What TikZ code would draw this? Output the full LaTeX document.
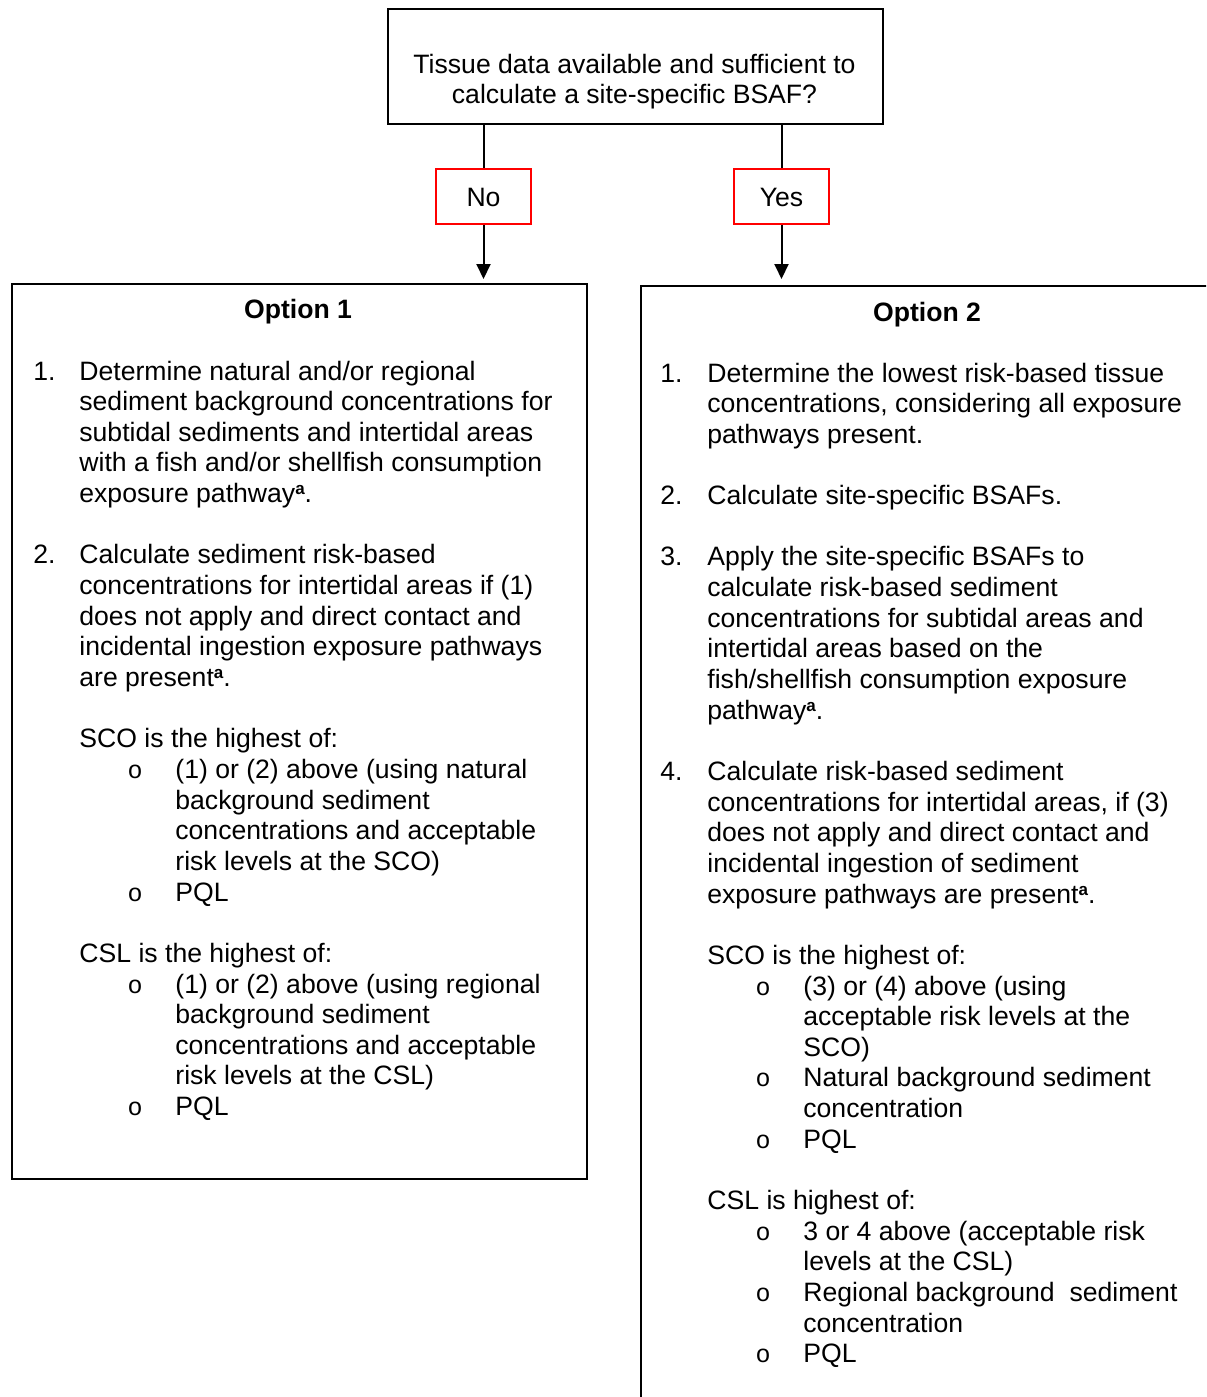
\documentclass[tikz,border=0pt]{standalone}
\usepackage{fontspec}
\setmainfont{Liberation Sans}
\newfontfamily\bulletfont{Liberation Mono}
\usetikzlibrary{arrows.meta}

% footnote marker used in the option lists
\newcommand{\fna}{\raisebox{0.3em}{\fontsize{8.5pt}{8.5pt}\selectfont\bfseries a}}
% a block of lines with its first baseline at the node's base
\newcommand{\textlines}[1]{\parbox[t]{300pt}{\raggedright #1}}

\tikzset{
  every node/.style={font=\fontsize{13.3pt}{15.33pt}\selectfont},
  txt/.style={anchor=base west, inner sep=0pt},
  bul/.style={anchor=base, inner sep=0pt, font=\fontsize{12.5pt}{15.33pt}\bulletfont},
  head/.style={anchor=base, inner sep=0pt, font=\fontsize{13.3pt}{15.33pt}\selectfont\bfseries},
  frame/.style={draw, line width=1pt, inner sep=0pt},
  answer/.style={draw=red, line width=1pt, inner sep=0pt, minimum width=47.5pt,
    minimum height=27.5pt},
  conn/.style={line width=1pt},
  arr/.style={conn, -{Triangle[width=7pt, length=7.5pt]}}
}

\begin{document}
\begin{tikzpicture}[x=0.5pt, y=-0.5pt]
\useasboundingbox (0,0) rectangle (1206,1397);
\clip (0,0) rectangle (1206,1397);

% question box
\node[frame, anchor=north west, minimum width=247.5pt, minimum height=57.5pt] (q) at (387,8) {};
\node[anchor=base, inner sep=0pt] (qt) at (634.5,73)
  {\parbox[t]{240pt}{\centering Tissue data available and sufficient to\\calculate a site-specific BSAF?}};

% answers (boxes), with their labels set on a common baseline
\node[answer] (no) at (483.5,196.5) {};
\node[answer] (yes) at (781.5,196.5) {};
\node[anchor=base, inner sep=0pt] (nol) at (483.5,206) {No};
\node[anchor=base, inner sep=0pt] (yesl) at (781.5,206) {Yes};

% option frames
\node[frame, anchor=north west, minimum width=287.5pt, minimum height=447.5pt] (o1) at (11,283) {};
\node[frame, anchor=north west, minimum width=320pt, minimum height=600pt] (o2) at (640,285) {};

% connectors
\draw[conn] (q.south -| no) -- (no.north);
\draw[conn] (q.south -| yes) -- (yes.north);
\draw[arr, shorten >=2pt] (no.south) -- (no.south |- o1.north);
\draw[arr, shorten >=3pt] (yes.south) -- (yes.south |- o2.north);

% ---------- Option 1 ----------
\def\yA{380}
\def\lp{30.65}
\node[head] (o1h) at (298,318) {Option 1};

\node[txt] (o1n1) at (33,\yA) {1.};
\node[txt] (o1t1) at (79,\yA) {\textlines{Determine natural and/or regional\\sediment background concentrations for\\subtidal sediments and intertidal areas\\with a fish and/or shellfish consumption\\exposure pathway\fna.}};

\node[txt] (o1n2) at (33,\yA+6*\lp) {2.};
\node[txt] (o1t2) at (79,\yA+6*\lp) {\textlines{Calculate sediment risk-based\\concentrations for intertidal areas if (1)\\does not apply and direct contact and\\incidental ingestion exposure pathways\\are present\fna.}};

\node[txt] (o1sco) at (79,\yA+12*\lp) {SCO is the highest of:};
\node[bul] (o1b1) at (135,\yA+13*\lp) {o};
\node[txt] (o1s1) at (175,\yA+13*\lp) {\textlines{(1) or (2) above (using natural\\background sediment\\concentrations and acceptable\\risk levels at the SCO)}};
\node[bul] (o1b2) at (135,\yA+17*\lp) {o};
\node[txt] (o1s2) at (175,\yA+17*\lp) {PQL};

\node[txt] (o1csl) at (79,\yA+19*\lp) {CSL is the highest of:};
\node[bul] (o1b3) at (135,\yA+20*\lp) {o};
\node[txt] (o1c1) at (175,\yA+20*\lp) {\textlines{(1) or (2) above (using regional\\background sediment\\concentrations and acceptable\\risk levels at the CSL)}};
\node[bul] (o1b4) at (135,\yA+24*\lp) {o};
\node[txt] (o1c2) at (175,\yA+24*\lp) {PQL};

% ---------- Option 2 ----------
\def\yB{382}
\node[head] (o2h) at (927,321) {Option 2};

\node[txt] (o2n1) at (660,\yB) {1.};
\node[txt] (o2t1) at (707,\yB) {\textlines{Determine the lowest risk-based tissue\\concentrations, considering all exposure\\pathways present.}};

\node[txt] (o2n2) at (660,\yB+4*\lp) {2.};
\node[txt] (o2t2) at (707,\yB+4*\lp) {Calculate site-specific BSAFs.};

\node[txt] (o2n3) at (660,\yB+6*\lp) {3.};
\node[txt] (o2t3) at (707,\yB+6*\lp) {\textlines{Apply the site-specific BSAFs to\\calculate risk-based sediment\\concentrations for subtidal areas and\\intertidal areas based on the\\fish/shellfish consumption exposure\\pathway\fna.}};

\node[txt] (o2n4) at (660,\yB+13*\lp) {4.};
\node[txt] (o2t4) at (707,\yB+13*\lp) {\textlines{Calculate risk-based sediment\\concentrations for intertidal areas, if (3)\\does not apply and direct contact and\\incidental ingestion of sediment\\exposure pathways are present\fna.}};

\node[txt] (o2sco) at (707,\yB+19*\lp) {SCO is the highest of:};
\node[bul] (o2b1) at (763,\yB+20*\lp) {o};
\node[txt] (o2s1) at (803,\yB+20*\lp) {\textlines{(3) or (4) above (using\\acceptable risk levels at the\\SCO)}};
\node[bul] (o2b2) at (763,\yB+23*\lp) {o};
\node[txt] (o2s2) at (803,\yB+23*\lp) {\textlines{Natural background sediment\\concentration}};
\node[bul] (o2b3) at (763,\yB+25*\lp) {o};
\node[txt] (o2s3) at (803,\yB+25*\lp) {PQL};

\node[txt] (o2csl) at (707,\yB+27*\lp) {CSL is highest of:};
\node[bul] (o2b4) at (763,\yB+28*\lp) {o};
\node[txt] (o2c1) at (803,\yB+28*\lp) {\textlines{3 or 4 above (acceptable risk\\levels at the CSL)}};
\node[bul] (o2b5) at (763,\yB+30*\lp) {o};
\node[txt] (o2c2) at (803,\yB+30*\lp) {\textlines{Regional background\ \ sediment\\concentration}};
\node[bul] (o2b6) at (763,\yB+32*\lp) {o};
\node[txt] (o2c3) at (803,\yB+32*\lp) {PQL};
\end{tikzpicture}
\end{document}
